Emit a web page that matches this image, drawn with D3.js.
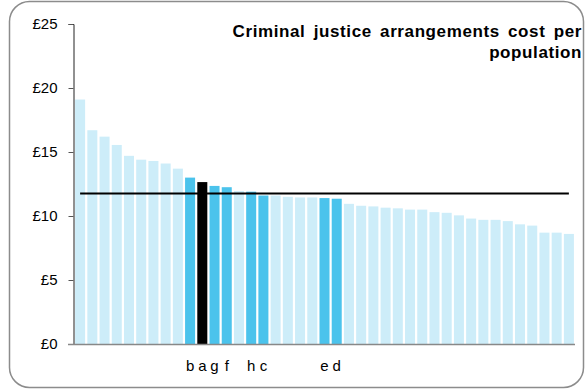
<!DOCTYPE html>
<html>
<head>
<meta charset="utf-8">
<script src="https://cdn.jsdelivr.net/npm/d3@7"></script>
<style>
  body { margin: 0; background: #fff; }
  svg { display: block; font-family: "Liberation Sans", Arial, sans-serif; }
</style>
</head>
<body>
<svg width="586" height="390"></svg>
<script>
// cost per population, sorted high to low
const values = [19.1, 16.7, 16.2, 15.55, 14.7, 14.4, 14.3, 14.1, 13.7, 13.0,
  12.65, 12.35, 12.25, 11.95, 11.9, 11.6, 11.6, 11.5, 11.45, 11.45,
  11.4, 11.35, 10.95, 10.8, 10.75, 10.65, 10.6, 10.5, 10.5, 10.3,
  10.25, 10.05, 9.8, 9.7, 9.7, 9.6, 9.35, 9.25, 8.7, 8.7, 8.6]
// label under each bar (most are blank)
const labels = ['', '', '', '', '', '', '', '', '', 'b',
  'a', 'g', 'f', '', 'h', 'c', '', '', '', '',
  'e', 'd', '', '', '', '', '', '', '', '',
  '', '', '', '', '', '', '', '', '', '', '']
// o = other, p = peer group, s = selected
const groups = ['o', 'o', 'o', 'o', 'o', 'o', 'o', 'o', 'o', 'p',
  's', 'p', 'p', 'o', 'p', 'p', 'o', 'o', 'o', 'o',
  'p', 'p', 'o', 'o', 'o', 'o', 'o', 'o', 'o', 'o',
  'o', 'o', 'o', 'o', 'o', 'o', 'o', 'o', 'o', 'o', 'o']
const average = 11.75
const yTicks = [0, 5, 10, 15, 20, 25]
const titleLines = ['Criminal justice arrangements cost per', 'population']

const colour = { o: '#cdedf9', p: '#4bc3ec', s: '#000000' }

const svg = d3.select('svg')

// rounded frame
svg.append('rect')
  .attr('x', 9.5).attr('y', 1.5)
  .attr('width', 574).attr('height', 386)
  .attr('rx', 20)
  .attr('fill', '#fff')
  .attr('stroke', '#8c8c8c')
  .attr('stroke-width', 1.5)

const idx = d3.range(values.length)
const x = d3.scaleBand().domain(idx).range([74, 575]).paddingInner(0.18).paddingOuter(0.09)
const y = d3.scaleLinear().domain([0, 25]).range([344, 24])

svg.append('g')
  .selectAll('rect')
  .data(idx)
  .join('rect')
  .attr('x', (i) => x(i))
  .attr('y', (i) => y(values[i]))
  .attr('width', x.bandwidth())
  .attr('height', (i) => y(0) - y(values[i]))
  .attr('fill', (i) => colour[groups[i]])

// average line from first to last bar centre
const half = x.bandwidth() / 2
svg.append('line')
  .attr('x1', x(0) + half)
  .attr('x2', x(values.length - 1) + half)
  .attr('y1', y(average))
  .attr('y2', y(average))
  .attr('stroke', '#000')
  .attr('stroke-width', 2)

// y axis
const yAxis = svg.append('g')
  .attr('transform', 'translate(73.5,0)')
  .call(d3.axisLeft(y).tickValues(yTicks).tickSize(5).tickPadding(11).tickFormat((d) => '£' + d))
yAxis.select('.domain').attr('stroke', '#222')
yAxis.selectAll('.tick line').attr('stroke', '#555')
yAxis.selectAll('text').attr('font-size', 15).attr('fill', '#000')

// x axis
const xAxis = svg.append('g')
  .attr('transform', 'translate(0,344.5)')
  .call(d3.axisBottom(x).tickSize(0).tickPadding(16).tickFormat((i) => labels[i]))
xAxis.select('.domain').remove()
xAxis.selectAll('text').attr('font-size', 15).attr('fill', '#000')
svg.append('line')
  .attr('x1', 68).attr('x2', 575)
  .attr('y1', 344.5).attr('y2', 344.5)
  .attr('stroke', '#888')
  .attr('stroke-width', 1.5)

// title
svg.append('text')
  .attr('y', 37)
  .attr('text-anchor', 'end')
  .attr('font-size', 17)
  .attr('font-weight', 'bold')
  .attr('letter-spacing', 0.6)
  .attr('word-spacing', 3)
  .selectAll('tspan')
  .data(titleLines)
  .join('tspan')
  .attr('x', 582)
  .attr('dy', (d, i) => (i ? 21 : 0))
  .text((d) => d)
</script>
</body>
</html>
